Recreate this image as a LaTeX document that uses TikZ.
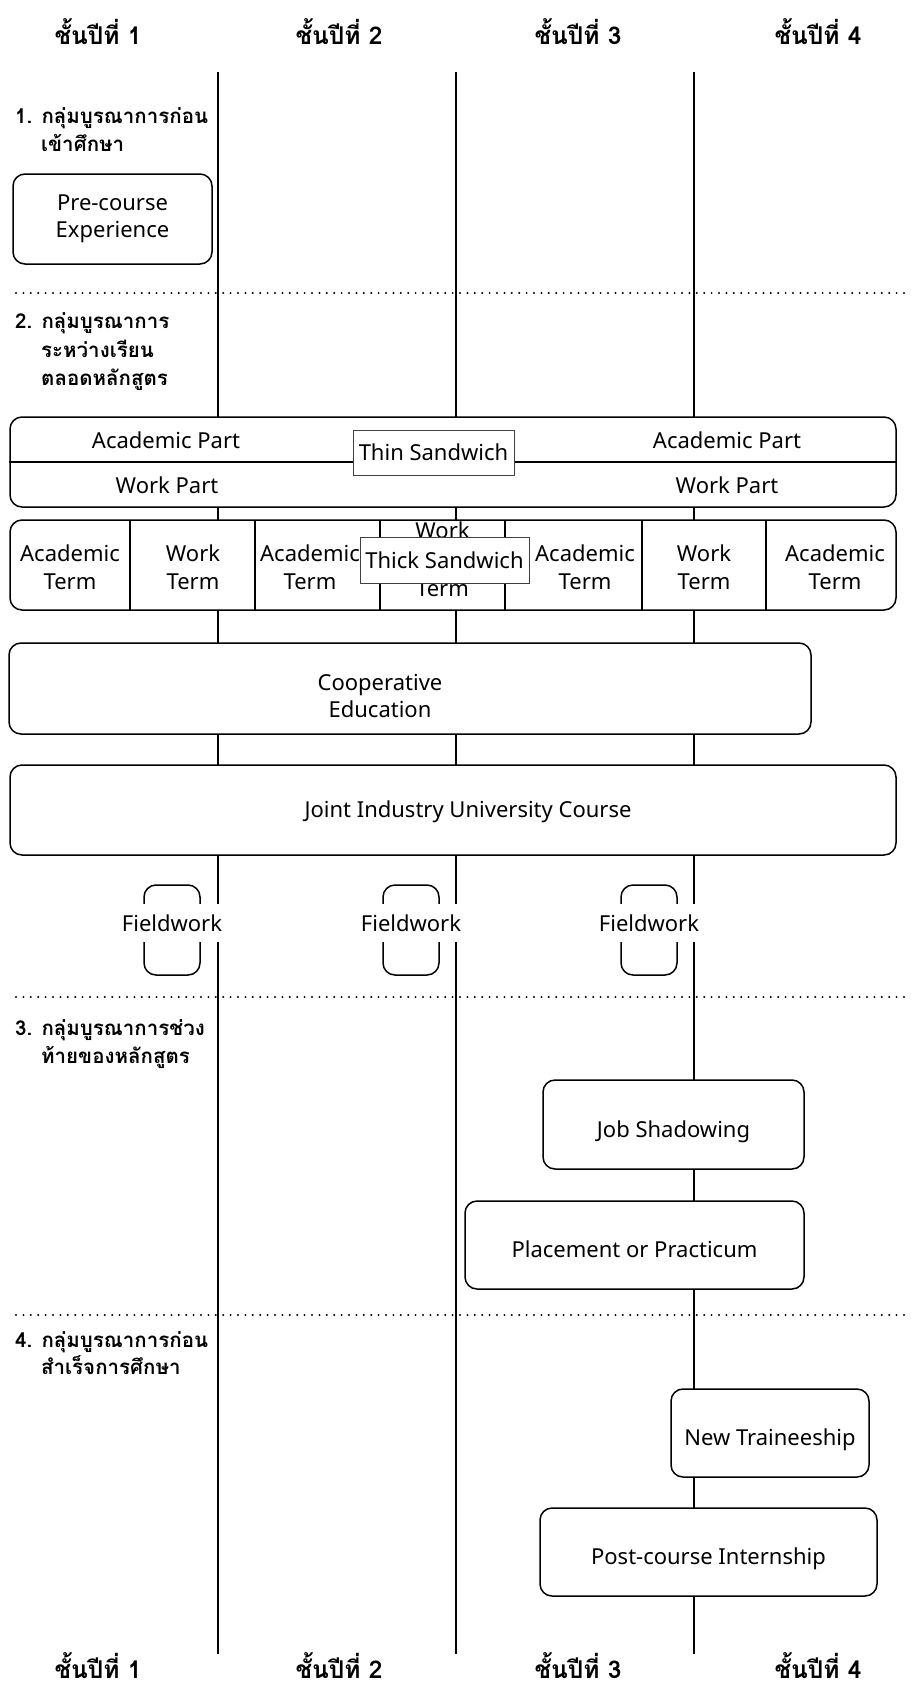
\documentclass[tikz,border=0pt]{standalone}
\usepackage{fontspec}
\setmainfont{Loma}[Script=Thai]
\newfontfamily\latinfont{Noto Sans}
\newcommand{\fsz}[2]{\fontsize{#1}{#2}\selectfont}
\begin{document}
\begin{tikzpicture}[x=1pt,y=-1pt,
 yearline/.style={line width=2.6pt},
 sepline/.style={line width=2.2pt, line cap=round, dash pattern=on 0pt off 7.4pt},
 rbox/.style={draw, line width=1.5pt, rounded corners=12pt, fill=white, inner sep=0pt, align=center, font=\latinfont\fsz{22}{27}},
 lowtext/.style={text height=25pt, text depth=0pt},
 tagbox/.style={draw=black!75, line width=0.9pt, fill=white, inner sep=0pt, font=\latinfont\fsz{22}{24}},
 txt/.style={font=\latinfont\fsz{22}{27}, align=center, inner sep=0pt},
 cell/.style={font=\latinfont\fsz{22}{28}, align=center, inner sep=0pt},
 header/.style={font=\bfseries\fsz{24.5}{28}, anchor=base, inner sep=0pt},
 grp/.style={font=\bfseries\fsz{20.5}{26}, anchor=base west, inner sep=0pt},
 fw/.style={draw, line width=1.5pt, rounded corners=12pt, minimum width=56pt, minimum height=90pt, inner sep=0pt},
 fwtext/.style={fill=white, font=\latinfont\fsz{22}{24}, minimum height=38pt, inner xsep=1pt, inner ysep=0pt},
 divider/.style={line width=1.5pt},
 midline/.style={line width=2.4pt},
]
\useasboundingbox (0,0) rectangle (916,1686);
\fill[white] (0,0) rectangle (916,1686);

% year headers
\foreach \i/\x in {1/98,2/339,3/578,4/818} {
  \node[header] (top\i) at (\x,45) {ชั้นปีที่ \i};
  \node[header] (bot\i) at (\x,1678) {ชั้นปีที่ \i};
}

% dotted separators
\coordinate (s1a) at (16,293);  \coordinate (s1b) at (910,293);
\coordinate (s2a) at (16,997);  \coordinate (s2b) at (910,997);
\coordinate (s3a) at (16,1315); \coordinate (s3b) at (910,1315);
\draw[sepline] (s1a) -- (s1b);
\draw[sepline] (s2a) -- (s2b);
\draw[sepline] (s3a) -- (s3b);

% year boundary lines
\coordinate (l1t) at (218,72);  \coordinate (l1b) at (218,1654);
\coordinate (l2t) at (456,72);  \coordinate (l2b) at (456,1654);
\coordinate (l3t) at (694,72);  \coordinate (l3b) at (694,1654);
\draw[yearline] (l1t) -- (l1b);
\draw[yearline] (l2t) -- (l2b);
\draw[yearline] (l3t) -- (l3b);

% group labels
\node[grp] (g1a) at (15,123) {1. กลุ่มบูรณาการก่อน};
\node[grp] (g1b) at (41,151) {เข้าศึกษา};
\node[grp] (g2a) at (15,328) {2. กลุ่มบูรณาการ};
\node[grp] (g2b) at (41,357) {ระหว่างเรียน};
\node[grp] (g2c) at (41,385) {ตลอดหลักสูตร};
\node[grp] (g3a) at (15,1035) {3. กลุ่มบูรณาการช่วง};
\node[grp] (g3b) at (41,1063) {ท้ายของหลักสูตร};
\node[grp] (g4a) at (15,1347) {4. กลุ่มบูรณาการก่อน};
\node[grp] (g4b) at (41,1374) {สำเร็จการศึกษา};

% pre-course
\node[rbox, minimum width=199pt, minimum height=90pt] (pre) at (112.5,219) {Pre-course\\Experience};

% thin sandwich
\node[rbox, minimum width=886pt, minimum height=90pt] (thin) at (453,462) {};
\draw[midline] (thin.west) -- (thin.east);
\node[txt] (ap1) at (166,440) {Academic Part};
\node[txt] (ap2) at (727,440) {Academic Part};
\node[txt] (wp1) at (167,485) {Work Part};
\node[txt] (wp2) at (727,485) {Work Part};
\node[tagbox, minimum width=161pt, minimum height=45pt] (thinlbl) at (433.5,452.5) {Thin Sandwich};

% thick sandwich
\node[rbox, minimum width=886pt, minimum height=90pt] (thick) at (453,565) {};
\foreach \x in {130,255,380,505,642,766} {
  \draw[divider] (\x,520) -- (\x,610);
}
\node[cell] (c1) at (70,567.5) {Academic\\Term};
\node[cell] (c2) at (193,567.5) {Work\\Term};
\node[cell] (c3) at (310,567.5) {Academic\\Term};
\node[cell] (c4) at (442.5,559) {Work\\[30pt]Term};
\node[cell] (c5) at (585,567.5) {Academic\\Term};
\node[cell] (c6) at (704,567.5) {Work\\Term};
\node[cell] (c7) at (835,567.5) {Academic\\Term};
\node[tagbox, minimum width=169pt, minimum height=46pt] (thicklbl) at (444.5,560) {Thick Sandwich};

% cooperative education
\node[rbox, minimum width=802pt, minimum height=91pt] (coop) at (410,688.5) {};
\node[txt] (coopt) at (380,696) {Cooperative\\Education};

% joint industry university course
\node[rbox, minimum width=886pt, minimum height=90pt] (joint) at (453,810) {};
\node[txt] (jointt) at (468,812) {Joint Industry University Course};

% fieldwork
\foreach \n/\x in {1/172,2/411,3/649} {
  \node[fw] (fwb\n) at (\x,930) {};
  \node[fwtext] (fw\n) at (\x,923) {Fieldwork};
}

% late-course groups
\node[rbox, lowtext, minimum width=261pt, minimum height=89pt] (job) at (673.5,1124.5) {Job Shadowing};
\node[rbox, lowtext, minimum width=339pt, minimum height=88pt] (place) at (634.5,1245) {Placement or Practicum};
\node[rbox, lowtext, minimum width=198pt, minimum height=88pt] (newt) at (770,1433) {New Traineeship};
\node[rbox, lowtext, minimum width=337pt, minimum height=88pt] (post) at (708.5,1552) {Post-course Internship};
\end{tikzpicture}
\end{document}
